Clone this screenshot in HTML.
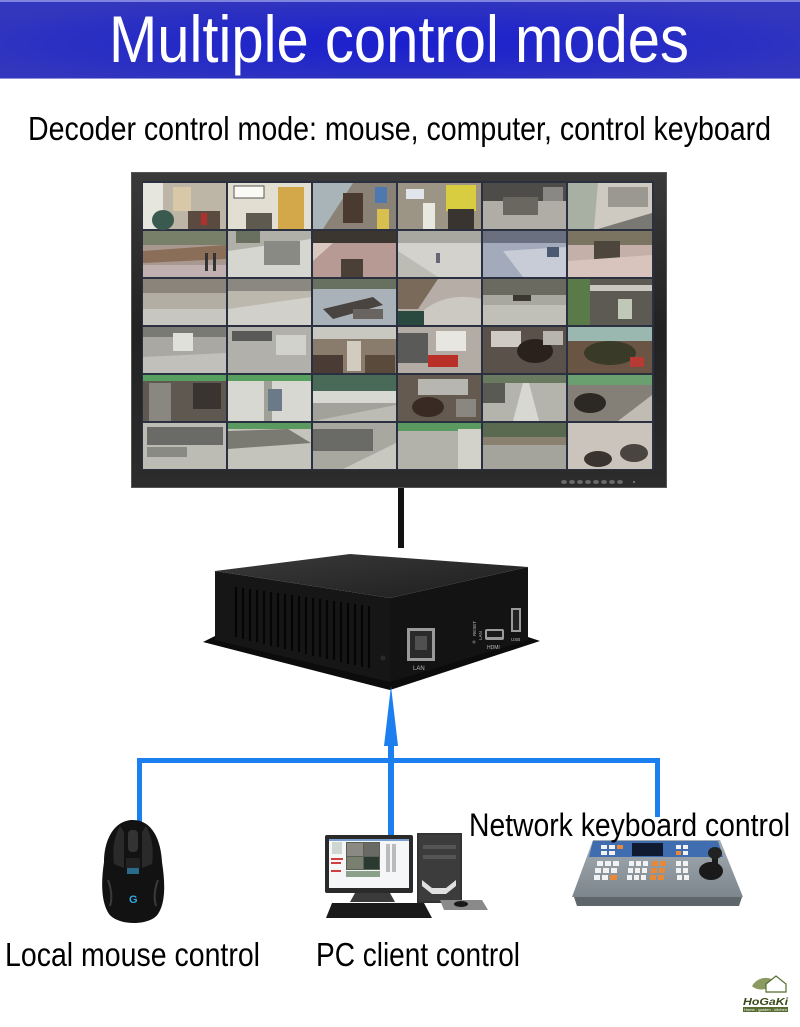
<!DOCTYPE html>
<html><head><meta charset="utf-8"><style>
html,body{margin:0;padding:0;background:#fff;}
svg{display:block;}
text{font-family:"Liberation Sans",sans-serif;}
</style></head><body>
<svg width="800" height="1027" viewBox="0 0 800 1027" xmlns="http://www.w3.org/2000/svg">
<defs>
<radialGradient id="hdr" cx="0.5" cy="0.55" r="0.6">
<stop offset="0" stop-color="#1a1fcf"/><stop offset="0.6" stop-color="#282dc4"/><stop offset="1" stop-color="#3337bd"/>
</radialGradient>
<linearGradient id="bez" x1="0" y1="0" x2="0" y2="1">
<stop offset="0" stop-color="#3a3a3a"/><stop offset="0.5" stop-color="#222"/><stop offset="1" stop-color="#2c2c2c"/>
</linearGradient>
<linearGradient id="topf" x1="0" y1="0" x2="1" y2="1">
<stop offset="0" stop-color="#3a3a3a"/><stop offset="1" stop-color="#1e1e1e"/>
</linearGradient>
<linearGradient id="kb" x1="0" y1="0" x2="0" y2="1">
<stop offset="0" stop-color="#a2acb2"/><stop offset="1" stop-color="#7c868c"/>
</linearGradient>
</defs>
<rect width="800" height="1027" fill="#fff"/>

<!-- header -->
<rect x="0" y="0" width="800" height="79" fill="url(#hdr)"/>
<rect x="0" y="0" width="800" height="2" fill="#7f84e0"/>
<rect x="0" y="78" width="800" height="1" fill="#8f93dc"/>
<text x="109" y="62" font-size="66" fill="#fff" textLength="580" lengthAdjust="spacingAndGlyphs">Multiple control modes</text>

<text x="28" y="140" font-size="33" fill="#000" textLength="743" lengthAdjust="spacingAndGlyphs">Decoder control mode: mouse, computer, control keyboard</text>

<!-- monitor -->
<rect x="131" y="172" width="536" height="316" fill="url(#bez)"/>
<rect x="131.5" y="172.5" width="535" height="315" fill="none" stroke="#555" stroke-width="1"/>
<rect x="142" y="181" width="512" height="289" fill="#2b3040"/>
<g>
<!-- row 1 -->
<g transform="translate(143,183)"><rect width="83" height="46" fill="#bdb5a5"/><rect width="20" height="46" fill="#e6e6de"/><rect x="30" y="4" width="18" height="24" fill="#d8c8a8"/><rect x="45" y="28" width="32" height="18" fill="#5a4a40"/><ellipse cx="20" cy="37" rx="11" ry="10" fill="#3a5a50"/><rect x="58" y="30" width="6" height="12" fill="#b03030"/></g>
<g transform="translate(228,183)"><rect width="83" height="46" fill="#e2ded2"/><rect x="6" y="3" width="30" height="12" fill="#fafaf4" stroke="#555" stroke-width="1"/><rect x="50" y="4" width="26" height="42" fill="#d2a84a"/><rect x="18" y="30" width="26" height="16" fill="#5e5a50"/></g>
<g transform="translate(313,183)"><rect width="83" height="46" fill="#8a8276"/><polygon points="0,0 40,0 10,46 0,46" fill="#a8b4b8"/><rect x="30" y="10" width="20" height="30" fill="#4a3a30"/><rect x="62" y="4" width="12" height="16" fill="#4e78b0"/><rect x="64" y="26" width="12" height="20" fill="#d8c050"/></g>
<g transform="translate(398,183)"><rect width="83" height="46" fill="#9c9484"/><rect x="8" y="6" width="18" height="10" fill="#e0e6ec"/><rect x="48" y="2" width="30" height="26" fill="#d8cc40"/><rect x="50" y="26" width="26" height="20" fill="#3a3430"/><rect x="25" y="20" width="12" height="26" fill="#e8e8e0"/></g>
<g transform="translate(483,183)"><rect width="83" height="46" fill="#b0aca6"/><rect width="83" height="18" fill="#4e4c48"/><rect x="20" y="14" width="35" height="18" fill="#6a6660"/><rect x="60" y="4" width="20" height="14" fill="#8a8884"/></g>
<g transform="translate(568,183)"><rect width="84" height="46" fill="#cecac2"/><polygon points="0,0 30,0 26,46 0,46" fill="#a8b0a4"/><rect x="40" y="4" width="40" height="20" fill="#9a9890"/><polygon points="30,46 84,30 84,46" fill="#7a7872"/></g>
<!-- row 2 -->
<g transform="translate(143,231)"><rect width="83" height="46" fill="#a89890"/><rect width="83" height="14" fill="#78806a"/><polygon points="0,20 83,14 83,28 0,32" fill="#8a6e58"/><rect x="0" y="34" width="83" height="12" fill="#c0b0b0"/><rect x="62" y="22" width="3" height="18" fill="#333"/><rect x="70" y="22" width="3" height="18" fill="#333"/></g>
<g transform="translate(228,231)"><rect width="83" height="46" fill="#b0b0a8"/><polygon points="0,20 83,8 83,46 0,46" fill="#d6d6d0"/><rect x="36" y="10" width="36" height="24" fill="#8a8a84"/><rect x="8" y="0" width="24" height="12" fill="#6a7060"/></g>
<g transform="translate(313,231)"><rect width="83" height="46" fill="#b89a94"/><rect width="83" height="12" fill="#3c3630"/><rect x="28" y="28" width="22" height="18" fill="#4a4038"/><polygon points="0,12 20,12 0,30" fill="#d8c8c0"/></g>
<g transform="translate(398,231)"><rect width="83" height="46" fill="#d4d2cc"/><rect width="83" height="12" fill="#a8a8a0"/><polygon points="0,20 40,46 0,46" fill="#bcbcb4"/><rect x="38" y="22" width="4" height="10" fill="#667"/></g>
<g transform="translate(483,231)"><rect width="83" height="46" fill="#a2aabb"/><rect width="83" height="12" fill="#6a7080"/><polygon points="20,20 83,16 83,46 40,46" fill="#c8ccd6"/><rect x="64" y="16" width="12" height="10" fill="#4a5a70"/></g>
<g transform="translate(568,231)"><rect width="84" height="46" fill="#c4b0a8"/><rect width="84" height="14" fill="#7a7460"/><rect x="26" y="10" width="26" height="24" fill="#4c463c"/><polygon points="0,30 84,24 84,46 0,46" fill="#d8c4bc"/></g>
<!-- row 3 -->
<g transform="translate(143,279)"><rect width="83" height="46" fill="#b2aea4"/><rect width="83" height="14" fill="#8a847a"/><rect x="0" y="30" width="83" height="16" fill="#c8c6c0"/></g>
<g transform="translate(228,279)"><rect width="83" height="46" fill="#bcb8ae"/><rect width="83" height="12" fill="#8a8880"/><polygon points="0,30 83,18 83,46 0,46" fill="#d2d0ca"/></g>
<g transform="translate(313,279)"><rect width="83" height="46" fill="#a8b2b8"/><rect width="83" height="10" fill="#687060"/><polygon points="10,30 60,18 70,26 20,40" fill="#4a4440"/><rect x="40" y="30" width="30" height="10" fill="#6a6460"/></g>
<g transform="translate(398,279)"><rect width="83" height="46" fill="#b6aea6"/><polygon points="0,0 40,0 20,30 0,30" fill="#7a6a5a"/><path d="M10,46 Q40,10 83,20 L83,46 Z" fill="#ccc8c2"/><rect x="0" y="32" width="26" height="14" fill="#2a4a40"/></g>
<g transform="translate(483,279)"><rect width="83" height="46" fill="#a8a8a0"/><rect width="83" height="16" fill="#6a6a60"/><rect x="0" y="26" width="83" height="20" fill="#c0c0b8"/><rect x="30" y="16" width="18" height="6" fill="#3a3630"/></g>
<g transform="translate(568,279)"><rect width="84" height="46" fill="#5c5a52"/><rect width="22" height="46" fill="#5a7a4a"/><rect x="22" y="6" width="62" height="6" fill="#c8c8c0"/><rect x="50" y="20" width="14" height="20" fill="#c0c8b8"/></g>
<!-- row 4 -->
<g transform="translate(143,327)"><rect width="83" height="46" fill="#aaa8a2"/><rect width="83" height="10" fill="#7a7a74"/><rect x="30" y="6" width="20" height="18" fill="#e0e0da"/><polygon points="0,30 83,26 83,46 0,46" fill="#c2c0ba"/></g>
<g transform="translate(228,327)"><rect width="83" height="46" fill="#b2b0aa"/><rect x="4" y="4" width="40" height="10" fill="#5a5a58"/><rect x="48" y="8" width="30" height="20" fill="#d2d2cc"/></g>
<g transform="translate(313,327)"><rect width="83" height="46" fill="#8a7c6c"/><rect width="83" height="12" fill="#c8c8c0"/><rect x="34" y="14" width="14" height="30" fill="#d2ccc0"/><rect x="0" y="28" width="30" height="18" fill="#4a3c34"/><rect x="52" y="28" width="30" height="18" fill="#5a4a3c"/></g>
<g transform="translate(398,327)"><rect width="83" height="46" fill="#b2aca4"/><rect x="0" y="6" width="30" height="30" fill="#5a5a58"/><rect x="38" y="4" width="30" height="20" fill="#e8e6e0"/><rect x="30" y="28" width="30" height="12" fill="#b83028"/></g>
<g transform="translate(483,327)"><rect width="83" height="46" fill="#5a524a"/><rect x="8" y="4" width="30" height="16" fill="#cfcac4"/><ellipse cx="52" cy="24" rx="18" ry="12" fill="#2a201c"/><rect x="60" y="4" width="20" height="14" fill="#b8b4ae"/></g>
<g transform="translate(568,327)"><rect width="84" height="46" fill="#6a5444"/><rect width="84" height="14" fill="#9ab8b0"/><ellipse cx="42" cy="26" rx="26" ry="12" fill="#3a3a28"/><rect x="62" y="30" width="14" height="10" fill="#b83a34"/></g>
<!-- row 5 -->
<g transform="translate(143,375)"><rect width="83" height="46" fill="#5e5850"/><rect width="83" height="6" fill="#58a060"/><rect x="6" y="8" width="22" height="38" fill="#8a8680"/><rect x="50" y="8" width="28" height="26" fill="#3a3430"/></g>
<g transform="translate(228,375)"><rect width="83" height="46" fill="#d8d8d2"/><rect width="83" height="6" fill="#58a060"/><rect x="36" y="6" width="8" height="40" fill="#a0a098"/><rect x="40" y="14" width="14" height="22" fill="#6a7a88"/></g>
<g transform="translate(313,375)"><rect width="83" height="46" fill="#a2a29a"/><rect width="83" height="16" fill="#4a6a58"/><rect x="0" y="16" width="83" height="12" fill="#d8d8d2"/><polygon points="0,46 83,30 83,46" fill="#bcbcb4"/></g>
<g transform="translate(398,375)"><rect width="83" height="46" fill="#645a50"/><rect x="20" y="4" width="50" height="16" fill="#b8b6b0"/><ellipse cx="30" cy="32" rx="16" ry="10" fill="#3a2a24"/><rect x="58" y="24" width="20" height="18" fill="#8a8680"/></g>
<g transform="translate(483,375)"><rect width="83" height="46" fill="#b4b4ac"/><rect width="83" height="8" fill="#6a7a60"/><polygon points="30,46 40,8 46,8 56,46" fill="#d8d8d2"/><rect x="0" y="8" width="22" height="20" fill="#5a5a54"/></g>
<g transform="translate(568,375)"><rect width="84" height="46" fill="#848078"/><rect width="84" height="10" fill="#6aa070"/><ellipse cx="22" cy="28" rx="16" ry="10" fill="#2c2824"/><polygon points="50,46 84,20 84,46" fill="#c0bcb4"/></g>
<!-- row 6 -->
<g transform="translate(143,423)"><rect width="83" height="46" fill="#bcbcb4"/><rect x="4" y="4" width="76" height="18" fill="#6a6a66"/><rect x="4" y="24" width="40" height="10" fill="#8a8a84"/></g>
<g transform="translate(228,423)"><rect width="83" height="46" fill="#c4c4bc"/><rect width="83" height="6" fill="#5a9a60"/><polygon points="0,8 60,6 83,20 0,26" fill="#7a7a72"/></g>
<g transform="translate(313,423)"><rect width="83" height="46" fill="#a8a8a0"/><rect x="0" y="6" width="60" height="22" fill="#6a6a66"/><polygon points="30,46 83,20 83,46" fill="#c8c8c0"/></g>
<g transform="translate(398,423)"><rect width="83" height="46" fill="#b2b2aa"/><rect width="83" height="8" fill="#5a9a60"/><rect x="60" y="6" width="23" height="40" fill="#d2d2ca"/></g>
<g transform="translate(483,423)"><rect width="83" height="46" fill="#a4a49c"/><rect width="83" height="14" fill="#5a6a50"/><rect x="0" y="14" width="83" height="8" fill="#8a8070"/></g>
<g transform="translate(568,423)"><rect width="84" height="46" fill="#cac4bc"/><ellipse cx="30" cy="36" rx="14" ry="8" fill="#3a3430"/><ellipse cx="66" cy="30" rx="14" ry="9" fill="#4a4440"/></g>
</g>
<!-- monitor buttons -->
<g fill="#6a6a6a">
<ellipse cx="564" cy="482" rx="3" ry="2"/><ellipse cx="572" cy="482" rx="3" ry="2"/><ellipse cx="580" cy="482" rx="3" ry="2"/><ellipse cx="588" cy="482" rx="3" ry="2"/><ellipse cx="596" cy="482" rx="3" ry="2"/><ellipse cx="604" cy="482" rx="3" ry="2"/><ellipse cx="612" cy="482" rx="3" ry="2"/><ellipse cx="620" cy="482" rx="3" ry="2"/>
</g>
<circle cx="634" cy="482" r="1" fill="#888"/>

<!-- pole -->
<rect x="398" y="488" width="6" height="60" fill="#111"/>

<!-- decoder box -->
<polygon points="203,642 215,636 390,678 528,637 540,641 390,690" fill="#0c0c0c"/>
<polygon points="215,571 390,598 390,682 215,640" fill="#161616"/>
<polygon points="390,598 528,567 528,640 390,682" fill="#131313"/>
<polygon points="215,571 350,554 528,567 390,598" fill="url(#topf)"/>
<g stroke="#050505" stroke-width="2.2">
<line x1="236" y1="587" x2="236" y2="637"/><line x1="243" y1="588" x2="243" y2="639"/><line x1="250" y1="589" x2="250" y2="641"/><line x1="257" y1="590" x2="257" y2="642"/><line x1="264" y1="591" x2="264" y2="644"/><line x1="271" y1="592" x2="271" y2="646"/><line x1="278" y1="593" x2="278" y2="647"/><line x1="285" y1="594" x2="285" y2="649"/><line x1="292" y1="595" x2="292" y2="651"/><line x1="299" y1="596" x2="299" y2="652"/><line x1="306" y1="597" x2="306" y2="654"/><line x1="313" y1="598" x2="313" y2="656"/><line x1="320" y1="599" x2="320" y2="657"/><line x1="327" y1="600" x2="327" y2="659"/><line x1="334" y1="601" x2="334" y2="660"/><line x1="341" y1="602" x2="341" y2="662"/><line x1="348" y1="603" x2="348" y2="664"/><line x1="355" y1="604" x2="355" y2="665"/><line x1="362" y1="605" x2="362" y2="667"/><line x1="369" y1="606" x2="369" y2="668"/>
</g>
<!-- ports -->
<rect x="407" y="628" width="28" height="33" fill="#9a9a98"/>
<rect x="410" y="631" width="22" height="27" fill="#2a2a2a"/>
<rect x="415" y="636" width="12" height="14" fill="#505050"/>
<text x="413" y="670" font-size="6" fill="#bbb">LAN</text>
<rect x="485" y="629" width="19" height="11" rx="2" fill="#9a9a98"/>
<rect x="487" y="631" width="15" height="6" fill="#1a1a1a"/>
<text x="487" y="649" font-size="5" fill="#bbb">HDMI</text>
<rect x="511" y="608" width="10" height="24" fill="#9a9a98"/>
<rect x="513" y="610" width="6" height="20" fill="#222"/>
<text x="511" y="641" font-size="4.5" fill="#bbb">USB</text>
<text x="0" y="0" font-size="4.5" fill="#bbb" transform="translate(476,636) rotate(-90)">RESET</text>
<text x="0" y="0" font-size="4.5" fill="#bbb" transform="translate(482,640) rotate(-90)">LAN</text>
<circle cx="474" cy="642" r="1.6" fill="#555"/>
<circle cx="383" cy="658" r="2.5" fill="#2a2a2a"/>

<!-- blue connectors -->
<g fill="#1b7ff0">
<rect x="137" y="758" width="523" height="5"/>
<rect x="137" y="758" width="5" height="64"/>
<rect x="655" y="758" width="5" height="59"/>
<rect x="388" y="742" width="6" height="94"/>
<polygon points="391,686 398,746 384,746"/>
</g>

<!-- mouse -->
<path d="M133,820 C114,820 104,840 104,862 C101,882 101,902 109,914 C118,926 150,926 158,914 C166,902 165,882 162,862 C161,840 152,820 133,820 Z" fill="#121212"/>
<path d="M120,826 C114,836 112,850 114,864 L124,868 L124,832 Z" fill="#2a2a2a"/>
<path d="M146,826 C152,836 154,850 152,864 L142,868 L142,832 Z" fill="#2a2a2a"/>
<rect x="128" y="830" width="10" height="22" rx="4" fill="#333"/>
<rect x="126" y="858" width="14" height="10" fill="#222"/>
<rect x="127" y="868" width="12" height="6" fill="#2a6a8a"/>
<path d="M108,880 C112,890 112,900 110,906" stroke="#3a3a3a" stroke-width="2" fill="none"/>
<path d="M158,880 C154,890 154,900 156,906" stroke="#3a3a3a" stroke-width="2" fill="none"/>
<text x="129" y="903" font-size="11" font-weight="bold" fill="#35a8e0">G</text>

<!-- PC -->
<rect x="417" y="833" width="45" height="70" fill="#333"/>
<rect x="419" y="835" width="41" height="66" fill="#3c3c3c"/>
<rect x="423" y="845" width="33" height="4" fill="#555"/>
<rect x="423" y="855" width="33" height="4" fill="#555"/>
<path d="M422,880 L432,888 L446,888 L456,880 L456,886 L446,894 L432,894 L422,886 Z" fill="#e0e0e0"/>
<rect x="325" y="835" width="88" height="58" rx="2" fill="#2a2a2a"/>
<rect x="329" y="839" width="80" height="49" fill="#f4f6f8"/>
<rect x="346" y="842" width="34" height="28" fill="#5a6058"/>
<rect x="347" y="843" width="16" height="13" fill="#8a8a82"/><rect x="364" y="843" width="15" height="13" fill="#6a6a64"/>
<rect x="347" y="857" width="16" height="12" fill="#7a8070"/><rect x="364" y="857" width="15" height="12" fill="#2a3a30"/>
<rect x="346" y="871" width="34" height="6" fill="#8aa088"/>
<rect x="332" y="842" width="10" height="12" fill="#cfd8d0"/>
<rect x="331" y="858" width="12" height="2" fill="#d04040"/><rect x="331" y="862" width="10" height="2" fill="#d04040"/><rect x="331" y="870" width="10" height="2" fill="#d04040"/>
<rect x="386" y="844" width="4" height="28" fill="#bbb"/><rect x="392" y="844" width="4" height="28" fill="#bbb"/>
<rect x="329" y="839" width="80" height="2" fill="#7aa0d0"/>
<polygon points="355,893 390,893 395,902 350,902" fill="#3a3a3a"/>
<polygon points="332,903 424,903 432,918 326,918" fill="#1a1a1a"/>
<polygon points="440,900 482,900 488,910 444,910" fill="#8a8a8a"/>
<ellipse cx="461" cy="904" rx="7" ry="3" fill="#1a1a1a"/>

<!-- control keyboard -->
<polygon points="574,897 742,897 739,906 577,906" fill="#5e666a"/>
<polygon points="593,840 720,840 743,897 572,897" fill="url(#kb)"/>
<polygon points="593,841 718,841 723,857 589,857" fill="#3f6db0"/>
<rect x="632" y="843" width="31" height="13" fill="#101a30"/>
<g fill="#f2f2f2">
<rect x="601" y="845" width="6" height="4"/><rect x="609" y="845" width="6" height="4"/><rect x="601" y="851" width="6" height="4"/><rect x="609" y="851" width="6" height="4"/>
<rect x="676" y="845" width="5" height="4"/><rect x="683" y="845" width="5" height="4"/><rect x="683" y="851" width="5" height="4"/>
<rect x="597" y="861" width="6" height="5"/><rect x="605" y="861" width="6" height="5"/><rect x="613" y="861" width="6" height="5"/>
<rect x="595" y="868" width="6" height="5"/><rect x="603" y="868" width="6" height="5"/><rect x="611" y="868" width="6" height="5"/>
<rect x="594" y="875" width="6" height="5"/><rect x="602" y="875" width="6" height="5"/>
<rect x="629" y="861" width="5" height="5"/><rect x="636" y="861" width="5" height="5"/><rect x="643" y="861" width="5" height="5"/>
<rect x="628" y="868" width="5" height="5"/><rect x="635" y="868" width="5" height="5"/><rect x="642" y="868" width="5" height="5"/>
<rect x="627" y="875" width="5" height="5"/><rect x="634" y="875" width="5" height="5"/><rect x="641" y="875" width="5" height="5"/>
<rect x="676" y="861" width="5" height="5"/><rect x="683" y="861" width="5" height="5"/><rect x="676" y="868" width="5" height="5"/><rect x="683" y="868" width="5" height="5"/><rect x="677" y="875" width="5" height="5"/><rect x="684" y="875" width="5" height="5"/>
</g>
<g fill="#e8893a">
<rect x="617" y="845" width="6" height="4"/><rect x="676" y="851" width="5" height="4"/>
<rect x="652" y="861" width="6" height="5"/><rect x="660" y="861" width="6" height="5"/><rect x="651" y="868" width="6" height="5"/><rect x="659" y="868" width="6" height="5"/><rect x="650" y="875" width="6" height="5"/><rect x="658" y="875" width="6" height="5"/>
<rect x="610" y="875" width="7" height="5"/>
</g>
<ellipse cx="711" cy="871" rx="12" ry="9" fill="#1a1a1a"/>
<rect x="712" y="854" width="6" height="14" fill="#1a1a1a"/>
<ellipse cx="715" cy="853" rx="7" ry="6" fill="#222"/>

<!-- labels -->
<text x="469" y="836" font-size="32" fill="#000" textLength="321" lengthAdjust="spacingAndGlyphs">Network keyboard control</text>
<text x="5" y="966" font-size="33" fill="#000" textLength="255" lengthAdjust="spacingAndGlyphs">Local mouse control</text>
<text x="316" y="966" font-size="33" fill="#000" textLength="204" lengthAdjust="spacingAndGlyphs">PC client control</text>

<!-- logo -->
<path d="M752,986 C758,976 770,976 776,982 C770,990 758,992 752,986 Z" fill="#8a9a60"/>
<path d="M766,984 L776,976 L786,984 L786,992 L766,992 Z" fill="#fff" stroke="#556b2f" stroke-width="1.2"/>
<text x="743" y="1005" font-size="10" font-style="italic" font-weight="bold" fill="#3a4a1a" font-family="Liberation Serif, serif" textLength="45" lengthAdjust="spacingAndGlyphs">HoGaKi</text>
<rect x="743" y="1007" width="45" height="5" fill="#556b2f"/>
<text x="744" y="1011" font-size="4" fill="#fff" textLength="43" lengthAdjust="spacingAndGlyphs">Home - garden - kitchen</text>
</svg>
</body></html>
